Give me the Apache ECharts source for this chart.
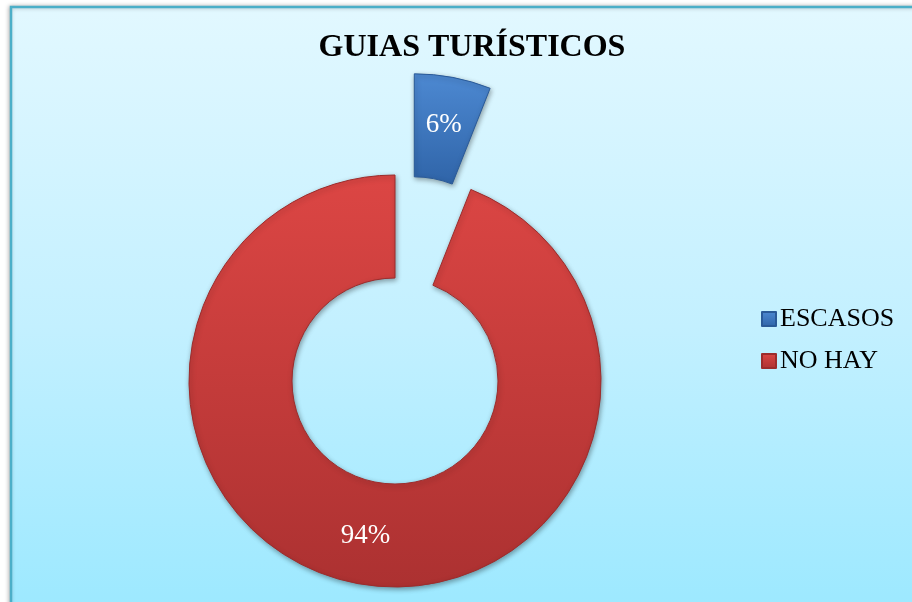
<!DOCTYPE html>
<html>
<head>
<meta charset="utf-8">
<style>
  html, body { margin: 0; padding: 0; background: #ffffff; }
  #chart { width: 912px; height: 602px; }
</style>
<script src="https://cdn.jsdelivr.net/npm/echarts@6/dist/echarts.min.js"></script>
</head>
<body>
<div id="chart"></div>
<script>
// Guías turísticos: share of answers
const titleText = 'GUIAS TURÍSTICOS';
const categories = ['ESCASOS', 'NO HAY'];
const values = [6, 94];
const sliceColors = [
  ['#4d89d2', '#2f64a8'],
  ['#dc4644', '#ac3131']
];
const serif = '"Liberation Serif", "DejaVu Serif", serif';

const chart = echarts.init(document.getElementById('chart'), null, { renderer: 'canvas' });

const grad = (c) => new echarts.graphic.LinearGradient(0, 0, 0, 1, [
  { offset: 0, color: c[0] },
  { offset: 1, color: c[1] }
]);

const pieData = categories.map((name, i) => ({
  name: name,
  value: values[i],
  selected: i === 0,
  itemStyle: {
    color: grad(sliceColors[i]),
    borderColor: i === 0 ? '#2a5a98' : '#9c2c2c',
    borderWidth: 1,
    shadowBlur: 5,
    shadowOffsetX: 1,
    shadowOffsetY: 2,
    shadowColor: 'rgba(0,0,0,0.35)'
  }
}));

chart.setOption({
  backgroundColor: '#ffffff',
  animation: false,
  graphic: [{
    type: 'rect',
    z: -10,
    shape: { x: 11, y: 7, width: 940, height: 640 },
    style: {
      fill: new echarts.graphic.LinearGradient(0, 0, 0, 1, [
        { offset: 0, color: '#e2f8ff' },
        { offset: 0.5, color: '#c3f0ff' },
        { offset: 0.92, color: '#9ee9ff' },
        { offset: 1, color: '#9ae8ff' }
      ]),
      stroke: '#4cafc8',
      lineWidth: 2.5,
      shadowBlur: 4,
      shadowOffsetX: -1,
      shadowColor: 'rgba(0,0,0,0.25)'
    }
  }],
  title: {
    text: titleText,
    left: 467,
    top: 27,
    textAlign: 'center',
    textStyle: {
      fontFamily: serif,
      fontWeight: 'bold',
      fontSize: 32,
      color: '#000000'
    }
  },
  legend: {
    orient: 'vertical',
    left: 756,
    top: 301,
    itemWidth: 14,
    itemHeight: 14,
    itemGap: 16,
    icon: 'rect',
    data: categories,
    selectedMode: false,
    textStyle: {
      fontFamily: serif,
      fontSize: 26,
      color: '#000000',
      padding: [0, 0, 0, -1]
    }
  },
  series: [{
    type: 'pie',
    center: [395, 381],
    radius: [103, 206],
    startAngle: 90,
    clockwise: true,
    selectedMode: 'single',
    selectedOffset: 103,
    avoidLabelOverlap: false,
    label: {
      show: true,
      position: 'inside',
      formatter: (p) => p.value + '%',
      fontFamily: serif,
      fontSize: 27,
      color: '#ffffff'
    },
    labelLine: { show: false },
    emphasis: { disabled: true },
    data: pieData
  }]
});
</script>
</body>
</html>
